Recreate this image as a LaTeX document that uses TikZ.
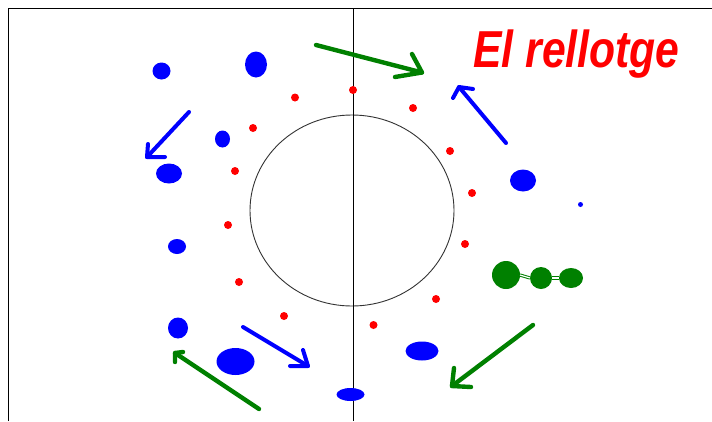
\documentclass[tikz,border=0pt]{standalone}
\usepackage{fontspec}
\setmainfont{Liberation Sans}
\usetikzlibrary{shapes.geometric}
\definecolor{dgreen}{RGB}{0,128,0}
\definecolor{pblue}{RGB}{0,0,255}
\definecolor{pred}{RGB}{255,0,0}
\tikzset{
  blob/.style n args={3}{ellipse,inner sep=0pt,outer sep=0pt,draw=none,fill=#1,minimum width=#2pt,minimum height=#3pt},
  bluedot/.style 2 args={blob={pblue}{#1}{#2}},
  greendot/.style 2 args={blob={dgreen}{#1}{#2}},
  reddot/.style={blob={pred}{8}{8}},
  hand/.style={line width=4pt,line cap=round,line join=round},
  handgreen/.style={hand,draw=dgreen,line width=4.4pt},
  handblue/.style={hand,draw=pblue},
  thin rule/.style={draw=black,line width=.9pt},
  link/.style={draw=dgreen,line width=1pt,double=white,double distance=1.2pt},
}
\begin{document}
\begin{tikzpicture}[x=1pt,y=-1pt]
\useasboundingbox (0,0) rectangle (712,421);
\fill[white] (0,0) rectangle (712,421);
% frame
\coordinate (fbl) at (8.5,421);
\coordinate (ftl) at (8.5,8.5);
\coordinate (ftr) at (712,8.5);
\coordinate (axt) at (353.5,8.5);
\coordinate (axb) at (353.5,421);
\draw[thin rule] (fbl) -- (ftl) -- (ftr);
% clock face
\node[ellipse,draw=black!80,line width=.9pt,minimum width=204pt,minimum height=191pt,inner sep=0pt,outer sep=0pt] (face) at (352,210.5) {};
\draw[thin rule] (axt) -- (axb);
% red hour marks
\foreach \n/\x/\y in {r1/353/90,r2/413/108,r3/450/151,r4/472/193,r5/465/244,r6/436/299,r7/373.5/325,r8/284/316,r9/239/282,r10/228/225,r11/235/171,r12/253/128,r13/295/97.5}
  \node[reddot] (\n) at (\x,\y) {};
% blue blobs
\foreach \n/\x/\y/\w/\h in {b1/161.5/71/18/17,b2/256/64.5/22/26,b3/222.5/139/15/17,b4/169/173.5/26/20,b5/177/246.5/18/15,b6/178/328/20/21,b7/235.5/361.5/38/27,b8/350.5/394.5/28/13,b9/422/351/33/19,b10/523/180.5/26/22,b11/580.5/204.5/5/5}
  \node[bluedot={\w}{\h}] (\n) at (\x,\y) {};
% green molecule
\node[greendot={28}{28}] (g1) at (506,275) {};
\node[greendot={22}{22}] (g2) at (541,278) {};
\node[greendot={24}{20}] (g3) at (571,278) {};
\draw[link] (g1.east) -- (g2.west);
\draw[link] (g2) -- (g3);
% arrows: shaft start, tip, two barb ends
\foreach \n/\sx/\sy/\tx/\ty/\ax/\ay/\bx/\by/\st in {
  a1/316/45/422/72.5/412/54/395/77/handgreen,
  a2/506/143/459/87/453/98/473/89/handblue,
  a3/533/325/452/386/454/368/471/387/handgreen,
  a4/243/327/308/366/303/350/290/366/handblue,
  a5/259/409/175/353/175/362/183/352/handgreen,
  a6/189/112/147/157/148/144/165/157/handblue}{
  \coordinate (\n s) at (\sx,\sy);
  \coordinate (\n t) at (\tx,\ty);
  \coordinate (\n a) at (\ax,\ay);
  \coordinate (\n b) at (\bx,\by);
  \draw[\st] (\n s) -- (\n t);
  \draw[\st] (\n a) -- (\n t) -- (\n b);
}
% title
\node[anchor=center,inner sep=0pt,text=pred,xscale=.82,font=\fontsize{52}{52}\selectfont\bfseries\itshape] (title) at (576.5,54) {El rellotge};
\end{tikzpicture}
\end{document}
